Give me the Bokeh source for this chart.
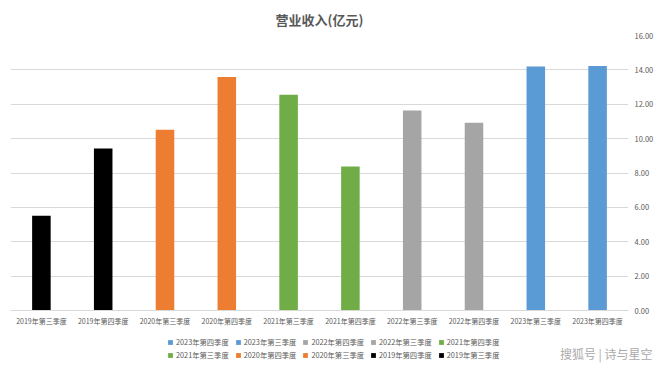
from bokeh.plotting import figure
from bokeh.layouts import column
from bokeh.models import (FactorRange, NumeralTickFormatter, Legend, LegendItem,
                          Label, LinearAxis, FixedTicker, Range1d)
from bokeh.embed import file_html
from bokeh.resources import INLINE

categories = ["2019年第三季度", "2019年第四季度", "2020年第三季度", "2020年第四季度",
              "2021年第三季度", "2021年第四季度", "2022年第三季度", "2022年第四季度",
              "2023年第三季度", "2023年第四季度"]
revenue = [5.52, 9.42, 10.52, 13.58, 12.56, 8.38, 11.63, 10.93, 14.19, 14.22]
colors = ["#000000", "#000000", "#ED7D31", "#ED7D31", "#70AD47", "#70AD47",
          "#A5A5A5", "#A5A5A5", "#5B9BD5", "#5B9BD5"]
y_ticks = [0, 2, 4, 6, 8, 10, 12, 14, 16]
watermark = "搜狐号 | 诗与星空"

FONT = "Noto Sans CJK SC"
GRAY = "#595959"

p = figure(width=660, height=328, x_range=FactorRange(*categories, range_padding=0),
           y_range=Range1d(0, 16), output_backend="svg", toolbar_location=None,
           y_axis_location=None, min_border_left=10, min_border_right=32,
           min_border_top=35, min_border_bottom=15)

p.title.text = "营业收入(亿元)"
p.title.align = "center"
p.title.standoff = 14
p.title.text_font = FONT
p.title.text_font_size = "13px"
p.title.text_color = GRAY
p.title.text_font_style = "bold"

for c, v, col in zip(categories, revenue, colors):
    p.vbar(x=[c], top=[v], width=0.3, fill_color=col, line_color=None)

yaxis = LinearAxis(ticker=FixedTicker(ticks=y_ticks),
                   formatter=NumeralTickFormatter(format="0.00"))
yaxis.axis_line_color = None
yaxis.major_tick_line_color = None
yaxis.minor_tick_line_color = None
yaxis.major_tick_out = 0
yaxis.major_tick_in = 0
yaxis.major_label_text_font = FONT
yaxis.major_label_text_font_size = "7.5px"
yaxis.major_label_text_color = GRAY
yaxis.major_label_standoff = 6
p.add_layout(yaxis, "right")

p.ygrid.ticker = FixedTicker(ticks=y_ticks)
p.ygrid.grid_line_color = "#D9D9D9"
p.xgrid.grid_line_color = None

xa = p.xaxis[0]
xa.axis_line_color = "#D9D9D9"
xa.major_tick_line_color = None
xa.minor_tick_line_color = None
xa.major_tick_out = 0
xa.major_tick_in = 0
xa.major_label_text_font = FONT
xa.major_label_text_font_size = "7px"
xa.major_label_text_color = GRAY
xa.major_label_standoff = 5

p.outline_line_color = None

# legend strip (bars fall below its visible range, only legend entries show)
q = figure(width=660, height=37, output_backend="svg", toolbar_location=None,
           x_range=FactorRange(*categories), y_range=Range1d(100, 101),
           min_border_left=0, min_border_right=0, min_border_top=0,
           min_border_bottom=0)
q.frame_align = False
q.axis.visible = False
q.grid.visible = False
q.outline_line_color = None

renderers = []
for c, v, col in zip(categories, revenue, colors):
    renderers.append(q.vbar(x=[c], top=[v], width=0.3, fill_color=col, line_color=None))

order = list(range(len(categories)))[::-1]
rows = [order[:5], order[5:]]
locs = [(167, 18), (167, 5)]
for row, loc in zip(rows, locs):
    items = [LegendItem(label=categories[i], renderers=[renderers[i]]) for i in row]
    lg = Legend(items=items, orientation="horizontal", location=loc,
                label_text_font=FONT, label_text_font_size="7.3px",
                label_text_color=GRAY, glyph_width=6, glyph_height=6,
                label_standoff=3, spacing=6, padding=0, margin=0,
                label_height=10, border_line_color=None,
                background_fill_alpha=0)
    q.add_layout(lg)

wm = Label(x=652, y=12, x_units="screen", y_units="screen", text=watermark,
           text_align="right", text_baseline="middle", text_font=FONT,
           text_font_size="12px", text_color="#AAAAAA")
q.add_layout(wm)

open("out.html", "w").write(file_html(column(p, q, spacing=0), INLINE))
